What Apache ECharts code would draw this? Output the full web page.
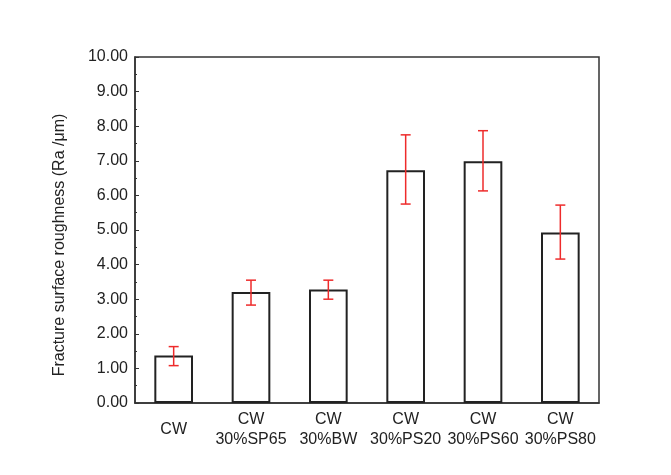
<!DOCTYPE html>
<html>
<head>
<meta charset="utf-8">
<script src="https://cdn.jsdelivr.net/npm/echarts@6/dist/echarts.min.js"></script>
<style>
html,body{margin:0;padding:0;background:#fff;}
#c{width:671px;height:475px;}
</style>
</head>
<body>
<div id="c"></div>
<script>
const categories = ['CW', 'CW\n30%SP65', 'CW\n30%BW', 'CW\n30%PS20', 'CW\n30%PS60', 'CW\n30%PS80'];
const values = [1.37, 3.21, 3.28, 6.73, 6.99, 4.93];
const errLow = [1.08, 2.83, 3.00, 5.75, 6.13, 4.16];
const errHigh = [1.63, 3.55, 3.55, 7.75, 7.87, 5.72];
const yTicks = [0, 10, 1];

const chart = echarts.init(document.getElementById('c'));
const font = 'Liberation Sans, Arial, sans-serif';
chart.setOption({
  backgroundColor: '#ffffff',
  animation: false,
  grid: { left: 135, right: 72, top: 57, bottom: 72, show: true, borderColor: '#333', borderWidth: 1.5, backgroundColor: 'transparent' },
  xAxis: {
    type: 'category',
    data: categories,
    axisLine: { lineStyle: { color: '#333', width: 1.5 } },
    axisTick: { show: false },
    axisLabel: { color: '#222', fontSize: 16, fontFamily: font, lineHeight: 20, verticalAlign: 'middle', margin: 27, interval: 0 }
  },
  yAxis: {
    type: 'value',
    min: yTicks[0], max: yTicks[1], interval: yTicks[2],
    name: 'Fracture surface roughness (Ra /\u03bcm)',
    nameLocation: 'middle',
    nameGap: 67,
    nameTextStyle: { color: '#222', fontSize: 16, fontFamily: font, padding: [0, 30, 0, 0] },
    axisLine: { show: true, lineStyle: { color: '#333', width: 1.5 } },
    axisTick: { show: true, inside: true, length: 4, lineStyle: { color: '#333' } },
    minorTick: { show: true, splitNumber: 2, length: 2, lineStyle: { color: '#333' } },
    splitLine: { show: false },
    axisLabel: { color: '#222', fontSize: 16, fontFamily: font, margin: 7, formatter: v => v.toFixed(2) }
  },
  series: [
    {
      type: 'bar',
      data: values,
      barWidth: '50%',
      itemStyle: { color: '#ffffff', borderColor: '#222', borderWidth: 2 }
    },
    {
      type: 'custom',
      data: categories.map((c, i) => [i, errLow[i], errHigh[i]]),
      renderItem: function (params, api) {
        const x = api.value(0);
        const lo = api.coord([x, api.value(1)]);
        const hi = api.coord([x, api.value(2)]);
        const hw = 5;
        const style = { stroke: '#ee2b2b', lineWidth: 1.5 };
        return {
          type: 'group',
          children: [
            { type: 'line', shape: { x1: lo[0], y1: lo[1], x2: hi[0], y2: hi[1] }, style },
            { type: 'line', shape: { x1: lo[0] - hw, y1: lo[1], x2: lo[0] + hw, y2: lo[1] }, style },
            { type: 'line', shape: { x1: hi[0] - hw, y1: hi[1], x2: hi[0] + hw, y2: hi[1] }, style }
          ]
        };
      },
      z: 10
    }
  ]
});
</script>
</body>
</html>
